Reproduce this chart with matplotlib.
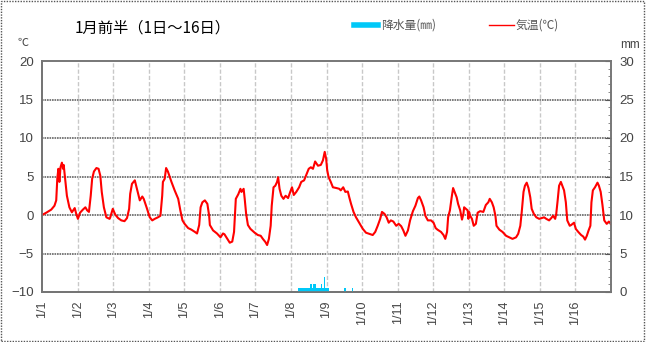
import matplotlib.pyplot as plt
from matplotlib.patches import Rectangle

plt.rcParams['font.family'] = ['Liberation Sans', 'Noto Sans CJK JP', 'DejaVu Sans']

# temperature trace, time in days from 1/1 00:00
temp_t = [0.00, 0.12, 0.26, 0.35, 0.40, 0.43, 0.46, 0.49, 0.52, 0.56, 0.59, 0.61, 0.65, 0.70,
          0.77, 0.84, 0.92, 0.96, 1.01, 1.07, 1.15, 1.22, 1.27, 1.32, 1.37, 1.41, 1.46, 1.53,
          1.59, 1.64, 1.68, 1.74, 1.81, 1.90, 1.92, 1.99, 2.06, 2.14, 2.23, 2.32, 2.39, 2.45,
          2.48, 2.53, 2.61, 2.67, 2.75, 2.82, 2.86, 2.94, 3.03, 3.10, 3.17, 3.26, 3.33, 3.38,
          3.40, 3.45, 3.49, 3.54, 3.64, 3.73, 3.83, 3.89, 3.95, 4.01, 4.11, 4.20, 4.30, 4.36,
          4.42, 4.46, 4.51, 4.58, 4.65, 4.70, 4.72, 4.81, 4.92, 5.02, 5.09, 5.13, 5.21, 5.28,
          5.35, 5.40, 5.45, 5.52, 5.58, 5.61, 5.67, 5.70, 5.74, 5.79, 5.86, 5.98, 6.07, 6.15,
          6.21, 6.28, 6.33, 6.38, 6.43, 6.46, 6.51, 6.56, 6.61, 6.64, 6.68, 6.73, 6.79, 6.85,
          6.92, 6.98, 7.03, 7.08, 7.15, 7.23, 7.29, 7.37, 7.43, 7.50, 7.56, 7.62, 7.68, 7.76,
          7.84, 7.90, 7.95, 7.99, 8.02, 8.06, 8.12, 8.18, 8.28, 8.36, 8.40, 8.47, 8.53, 8.60,
          8.64, 8.69, 8.76, 8.83, 8.92, 9.02, 9.11, 9.21, 9.30, 9.37, 9.44, 9.51, 9.56, 9.63,
          9.69, 9.75, 9.81, 9.88, 9.96, 10.03, 10.10, 10.16, 10.22, 10.29, 10.35, 10.43, 10.50,
          10.57, 10.61, 10.66, 10.73, 10.78, 10.85, 10.94, 11.01, 11.07, 11.12, 11.22, 11.29,
          11.34, 11.39, 11.42, 11.47, 11.52, 11.56, 11.61, 11.66, 11.70, 11.76, 11.81, 11.85,
          11.87, 11.92, 11.97, 11.99, 12.01, 12.04, 12.09, 12.14, 12.20, 12.25, 12.32, 12.41,
          12.48, 12.55, 12.59, 12.65, 12.70, 12.75, 12.78, 12.86, 12.95, 13.05, 13.14, 13.23,
          13.33, 13.39, 13.45, 13.49, 13.54, 13.58, 13.63, 13.68, 13.73, 13.77, 13.83, 13.90,
          13.98, 14.05, 14.12, 14.18, 14.26, 14.32, 14.37, 14.43, 14.46, 14.50, 14.54, 14.59,
          14.63, 14.68, 14.73, 14.77, 14.84, 14.88, 14.96, 15.01, 15.08, 15.16, 15.22, 15.27,
          15.32, 15.37, 15.42, 15.45, 15.49, 15.55, 15.62, 15.66, 15.71, 15.76, 15.81, 15.88,
          15.94, 15.99]
temp_c = [0.0, 0.3, 0.7, 1.2, 1.9, 4.7, 6.0, 4.3, 6.2, 6.8, 6.0, 6.5, 4.7, 2.5,
          1.0, 0.35, 0.9, 0.2, -0.5, 0.3, 0.7, 1.0, 0.6, 0.4, 2.5, 4.7, 5.65, 6.1,
          6.0, 5.1, 3.0, 1.0, -0.3, -0.5, -0.3, 0.8, 0.05, -0.4, -0.7, -0.8, -0.4, 0.8,
          2.75, 4.05, 4.5, 3.4, 1.9, 2.4, 2.1, 1.0, -0.3, -0.7, -0.5, -0.3, -0.1, 2.5,
          4.3, 4.7, 6.1, 5.65, 4.3, 3.2, 2.1, 0.6, -0.7, -1.15, -1.7, -1.9, -2.2, -2.4,
          -1.3, 1.0, 1.65, 1.9, 1.45, -0.1, -1.3, -2.0, -2.4, -2.9, -2.4, -2.5, -3.1, -3.6,
          -3.45, -2.2, 2.1, 2.7, 3.4, 3.0, 3.4, 2.1, 0.15, -1.3, -1.8, -2.3, -2.6, -2.7,
          -3.1, -3.5, -3.9, -3.1, -1.4, 1.2, 3.6, 3.8, 4.3, 4.9, 3.4, 2.5, 2.1, 2.5,
          2.2, 3.0, 3.6, 2.6, 3.0, 3.6, 4.3, 4.5, 5.2, 6.0, 6.2, 6.0, 6.95, 6.4,
          6.5, 7.1, 8.2, 7.3, 5.8, 4.9, 4.3, 3.6, 3.5, 3.4, 3.2, 3.6, 3.0, 3.05,
          2.3, 1.45, 0.4, -0.3, -1.0, -1.8, -2.3, -2.45, -2.6, -2.2, -1.4, -0.5, 0.4, 0.15,
          -0.3, -1.0, -0.7, -0.85, -1.4, -1.15, -1.45, -2.0, -2.7, -2.0, -0.7, 0.5, 1.2,
          2.2, 2.4, 1.9, 1.0, -0.1, -0.7, -0.7, -1.0, -1.7, -1.9, -2.2, -2.6,
          -3.1, -2.2, -0.3, 0.6, 2.3, 3.5, 2.9, 2.3, 1.45, 0.6, -0.6, 0.15,
          1.0, 0.8, 0.6, -0.5, 0.4, -0.1, -0.5, -1.4, -1.15, 0.3, 0.5, 0.4,
          1.3, 1.65, 2.1, 1.65, 1.0, -0.1, -1.4, -1.9, -2.2, -2.7, -2.9, -3.1,
          -2.9, -2.45, -1.4, 0.4, 3.0, 3.8, 4.2, 3.5, 2.3, 0.8, 0.15, -0.3,
          -0.5, -0.4, -0.3, -0.5, -0.7, -0.4, -0.1, -0.5, 0.15, 1.9, 3.8, 4.3,
          3.8, 3.2, 1.65, -0.7, -1.4, -1.3, -1.0, -1.8, -2.2, -2.6, -2.8, -3.2,
          -2.7, -2.0, -1.4, 1.65, 3.2, 3.6, 4.2, 3.8, 3.0, 1.3, -0.7, -1.15,
          -0.85, -1.15]

# hourly precipitation (hour from 1/1 00:00, mm)
rain_hour = [173, 174, 175, 176, 177, 178, 179, 180, 181, 182, 183, 184, 185, 186, 187,
             188, 189, 190, 191, 192, 193, 204, 209]
rain_mm = [0.5, 0.5, 0.5, 0.5, 0.5, 0.5, 0.5, 0.5, 1.0, 0.5, 1.0, 1.0, 0.5, 0.5, 0.5,
           1.0, 0.5, 2.0, 0.5, 0.5, 0.5, 0.5, 0.5]

day_labels = ['1/%d' % i for i in range(1, 17)]

fig = plt.figure(figsize=(6.46, 3.42), dpi=100)
ax = fig.add_axes([42 / 646, 50 / 342, 569 / 646, 231 / 342])
ax2 = ax.twinx()

# rain bars on right axis
ax2.bar([h / 24 + 1 / 48 for h in rain_hour], rain_mm, width=1 / 24,
        color='#00c8f8', edgecolor='none', zorder=2)
ax2.set_ylim(0, 30)
ax2.set_yticks(range(0, 31, 5))
ax2.set_yticks(range(0, 31), minor=True)
ax2.tick_params(axis='y', which='major', direction='in', length=4, labelsize=9.5,
                labelcolor='#444444', color='#555555', pad=6)
ax2.tick_params(axis='y', which='minor', direction='in', length=2, color='#777777')

ax.plot(temp_t, temp_c, color='#ff0000', linewidth=1.5, zorder=3)
ax.set_xlim(0, 16)
ax.set_ylim(-10, 20)
ax.set_yticks(range(-10, 21, 5))
ax.set_xticks(range(16))
ax.set_xticklabels(day_labels, rotation=90)
ax.tick_params(axis='y', length=0, labelsize=9.5, labelcolor='#444444', pad=6)
ax.tick_params(axis='x', length=0, labelsize=9, labelcolor='#444444', pad=6)

for v in range(-5, 20, 5):
    ax.axhline(v, color='#666666', linewidth=1.2, linestyle=(0, (1, 0.5)), zorder=1)
for d in range(1, 16):
    ax.axvline(d, color='#c8c8c8', linewidth=1, linestyle=(0, (3, 1.5)), zorder=1)

for a in (ax, ax2):
    for s in a.spines.values():
        s.set_color('#777777')
        s.set_linewidth(1.2)
ax.spines['left'].set_color('#555555')
ax.spines['bottom'].set_color('#555555')

fig.text(75 / 646, 1 - 28 / 342, '1月前半（1日～16日）', fontsize=11, va='center', ha='left',
         color='black', family=['Noto Sans CJK JP'])
fig.text(18 / 646, 1 - 43 / 342, '℃', fontsize=8, va='center', ha='left', color='#444444',
         family=['Noto Sans CJK JP'])
fig.text(640 / 646, 1 - 45 / 342, 'mm', fontsize=8.5, va='center', ha='right', color='#444444')

# legend drawn by hand in figure coords
fig.add_artist(plt.Line2D([354 / 646, 378 / 646], [1 - 25 / 342] * 2, color='#00c8f8',
                          linewidth=4))
fig.text(381 / 646, 1 - 25 / 342, '降水量(㎜)', fontsize=8.5, va='center', ha='left',
         color='#555555', family=['Noto Sans CJK JP'])
fig.add_artist(plt.Line2D([489 / 646, 514 / 646], [1 - 25 / 342] * 2, color='#ff0000',
                          linewidth=1))
fig.text(516 / 646, 1 - 25 / 342, '気温(℃)', fontsize=8.5, va='center', ha='left',
         color='#555555', family=['Noto Sans CJK JP'])

fig.add_artist(Rectangle((0.002, 0.003), 0.995, 0.994, transform=fig.transFigure,
                         fill=False, edgecolor='#555555', linewidth=1, linestyle=(0, (1, 1))))

fig.savefig('out.png', dpi=100)
